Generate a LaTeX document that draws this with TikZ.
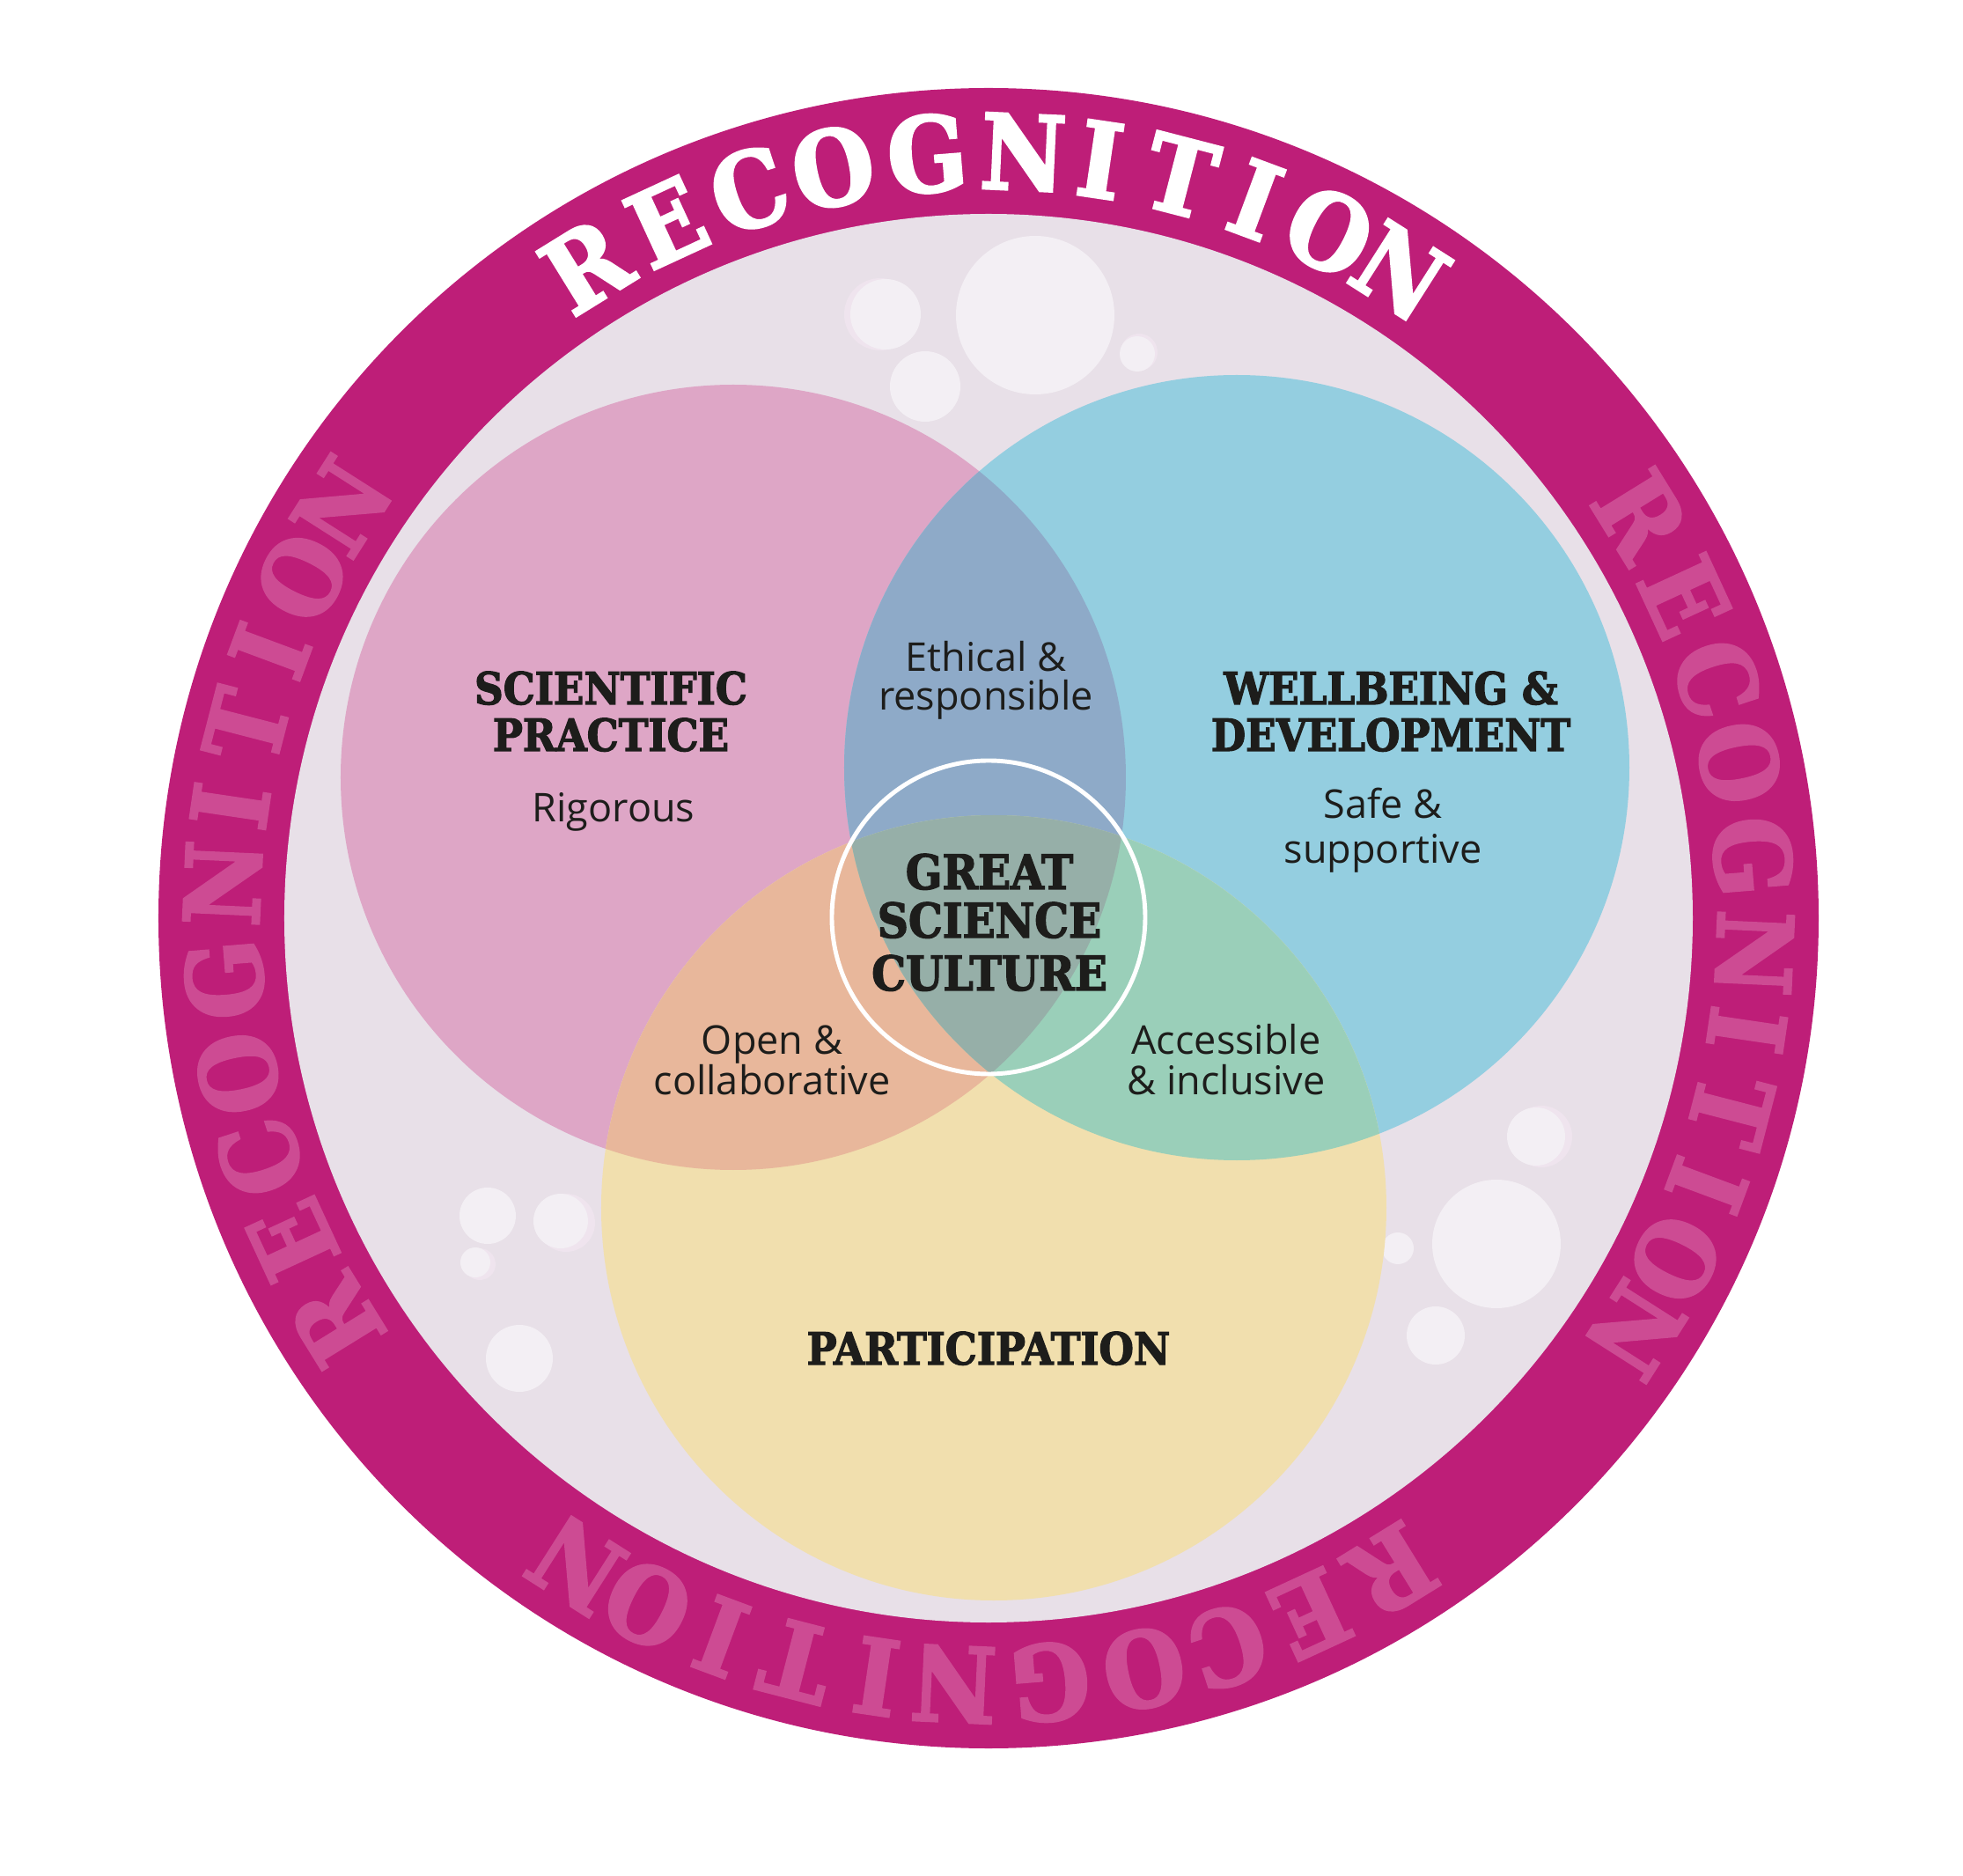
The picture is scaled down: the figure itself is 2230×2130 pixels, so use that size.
\documentclass[tikz,border=0pt]{standalone}
\usepackage{fontspec}
\setmainfont{Open Sans}
\newfontfamily\slabfont{DejaVu Serif Condensed}[BoldFeatures={FakeBold=2.5}]
\newfontfamily\ringfont{DejaVu Serif Condensed}[BoldFeatures={FakeBold=2.5}]
\usepackage{xcolor}
\definecolor{ringMag}{HTML}{BE1E78}
\definecolor{ringTxt}{HTML}{CD4B93}
\definecolor{disk}{HTML}{E8E0E8}
\definecolor{bubble}{HTML}{F3EFF4}
\definecolor{halo}{HTML}{EFE4EE}
\definecolor{sciPink}{HTML}{DEA6C6}
\definecolor{wellBlue}{HTML}{94CEE0}
\definecolor{partYel}{HTML}{F1DFAE}
\definecolor{pinkBlue}{HTML}{8EAAC8}
\definecolor{pinkYel}{HTML}{E8B79B}
\definecolor{blueYel}{HTML}{9ACFB9}
\definecolor{allThree}{HTML}{96AFA8}
\definecolor{ink}{HTML}{1D1D1B}
\usetikzlibrary{positioning}

\begin{document}
\begin{tikzpicture}[x=0.01cm, y=0.01cm,
    heading/.style={font=\slabfont\bfseries\fontsize{14.3}{15}\selectfont, text=ink, inner sep=0pt, anchor=base},
    core/.style={font=\slabfont\bfseries\fontsize{15.4}{16}\selectfont, text=ink, inner sep=0pt, anchor=base},
    value/.style={font=\fontsize{12.8}{13}\selectfont, text=ink, inner sep=0pt, anchor=base},
    ringletter/.style={font=\ringfont\bfseries\fontsize{33.5}{34}\selectfont, inner sep=0pt, anchor=base}]

    \useasboundingbox (-1123,-1087) rectangle (1107,1043);
    \fill [ringMag] (0,0) circle (943);
    \fill [disk] (0,0) circle (800);

    \foreach \c/\col in {90/white, 0/ringTxt, 270/ringTxt, 180/ringTxt}
      \foreach \l/\o in {R/31.7, E/24.8, C/18.2, O/11.7, G/4.6, N/-2.6, I/-8.4, T/-14.5, I/-20.4, O/-26.4, N/-32.5}
        \node [ringletter, text=\col, rotate={\c+\o-90}] at ({\c+\o}:828) {\l};

    \foreach \x/\y/\r in {-123/686/41, 171/643/21, -480/-346/33, 628/-248/35, -578/-393/18}
      \fill [halo] (\x,\y) circle (\r);
    \foreach \x/\y/\r in {53/685/90, -117/686/40, -72/604/40, 169/641/20,
                          -569/-338/32, -486/-344/31, -583/-391/17, -533/-500/38,
                          622/-248/33, 577/-370/73, 465/-375/18, 508/-474/33}
      \fill [bubble] (\x,\y) circle (\r);

    \coordinate (sci) at (-290,160);
    \coordinate (well) at (282,171);
    \coordinate (part) at (6,-329);
    \fill [sciPink] (sci) circle (446);
    \fill [wellBlue] (well) circle (446);
    \fill [partYel] (part) circle (446);
    \begin{scope}
      \clip (sci) circle (446);
      \fill [pinkBlue] (well) circle (446);
      \fill [pinkYel] (part) circle (446);
    \end{scope}
    \begin{scope}
      \clip (well) circle (446);
      \fill [blueYel] (part) circle (446);
    \end{scope}
    \begin{scope}
      \clip (sci) circle (446);
      \clip (well) circle (446);
      \fill [allThree] (part) circle (446);
    \end{scope}
    \draw [white, line width=1.4pt] (0,1) circle (178);

    \node [heading] (sciA) at (-429,243) {SCIENTIFIC};
    \node [heading] (sciB) at (-429,190) {PRACTICE};
    \node [value] (rig) at (-426,109) {Rigorous};

    \node [value] (ethA) at (-3,280) {Ethical \&};
    \node [value] (ethB) at (-3,236) {responsible};

    \node [heading] (wellA) at (457,243) {WELLBEING \&};
    \node [heading] (wellB) at (457,190) {DEVELOPMENT};
    \node [value] (safeA) at (448,113) {Safe \&};
    \node [value] (safeB) at (448,62) {supportive};

    \node [core] (coreA) at (1,33) {GREAT};
    \node [core] (coreB) at (1,-22) {SCIENCE};
    \node [core] (coreC) at (1,-82) {CULTURE};

    \node [value] (openA) at (-246,-154) {Open \&};
    \node [value] (openB) at (-246,-200) {collaborative};
    \node [value] (accA) at (270,-154) {Accessible};
    \node [value] (accB) at (270,-200) {\& inclusive};

    \node [heading] (partA) at (0,-507) {PARTICIPATION};

  \end{tikzpicture}
\end{document}
